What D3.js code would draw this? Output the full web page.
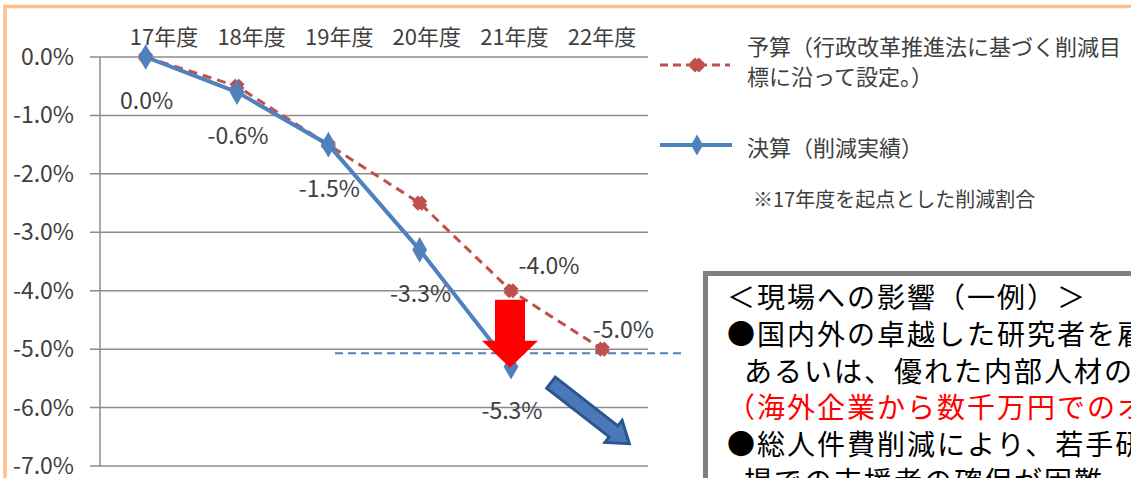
<!DOCTYPE html>
<html>
    <head>
        <meta charset="utf-8">
        <title>人件費削減</title>
        <style>
            body { margin: 0; background: #fff; }
            text { font-family: "Noto Sans CJK JP", "Noto Sans", sans-serif; }
        </style>
    </head>

    <body>
        <script src="https://cdn.jsdelivr.net/npm/d3@7"></script>
        <script>

            var years = ["17年度", "18年度", "19年度", "20年度", "21年度", "22年度"];
            var budget = [0, -0.5, -1.5, -2.5, -4.0, -5.0];
            var actual = [0, -0.6, -1.5, -3.3, -5.3, null];
            var yTicks = [0, -1, -2, -3, -4, -5, -6, -7];
            var budgetLabeled = [false, false, false, false, true, true];
            var targetLine = -5.0;

            var legendBudget = ["予算（行政改革推進法に基づく削減目", "標に沿って設定。）"];
            var legendActual = "決算（削減実績）";
            var note = "※17年度を起点とした削減割合";

            var boxLines = [
                {text: "＜現場への影響（一例）＞", indent: 0, red: false},
                {text: "●国内外の卓越した研究者を雇用することが困難", indent: 0, red: false},
                {text: "あるいは、優れた内部人材の流出", indent: 17, red: false},
                {text: "（海外企業から数千万円でのオファー）", indent: 0, red: true},
                {text: "●総人件費削減により、若手研究者や現", indent: 0, red: false},
                {text: "場での支援者の確保が困難", indent: 17, red: false}
            ];

            var width = 1131;
            var height = 478;
            var red = "#C0504D";
            var blue = "#4F81BD";

            var svg = d3.select("body").append("svg")
                    .attr("width", width)
                    .attr("height", height);

            // orange frame of the slide
            svg.append("rect")
                    .attr("x", 5).attr("y", 6.5)
                    .attr("width", width + 20).attr("height", height + 20)
                    .attr("fill", "none")
                    .attr("stroke", "#FAC090")
                    .attr("stroke-width", 3.5);

            var x = d3.scaleBand().domain(years).range([100, 648]);
            var cx = function (d) { return x(d) + x.bandwidth() / 2; };
            var y = d3.scaleLinear().domain([0, -7]).range([57, 466]);
            var header = d3.scalePoint().domain(years).range([164, 602]);
            var fmt = function (v) { return v.toFixed(1) + "%"; };

            // grid + ticks
            svg.append("g").selectAll("line")
                    .data(yTicks)
                    .enter().append("line")
                    .attr("x1", 90).attr("x2", 648)
                    .attr("y1", function (d) { return y(d); })
                    .attr("y2", function (d) { return y(d); })
                    .attr("stroke", "#8c8c8c")
                    .attr("stroke-width", 1.5);

            svg.append("line")
                    .attr("x1", 100).attr("x2", 100)
                    .attr("y1", y(0)).attr("y2", y(-7))
                    .attr("stroke", "#8c8c8c")
                    .attr("stroke-width", 1.5);

            svg.append("g").selectAll("text")
                    .data(yTicks)
                    .enter().append("text")
                    .attr("x", 74)
                    .attr("y", function (d) { return y(d); })
                    .attr("dy", "0.35em")
                    .attr("text-anchor", "end")
                    .attr("font-size", 23)
                    .attr("fill", "#404040")
                    .text(function (d) { return fmt(d); });

            svg.append("g").selectAll("text")
                    .data(years)
                    .enter().append("text")
                    .attr("x", function (d) { return header(d); })
                    .attr("y", 37)
                    .attr("dy", "0.35em")
                    .attr("text-anchor", "middle")
                    .attr("font-size", 22)
                    .attr("fill", "#404040")
                    .text(function (d) { return d; });

            // target reference line
            svg.append("line")
                    .attr("x1", 335).attr("x2", 683)
                    .attr("y1", y(targetLine) + 4).attr("y2", y(targetLine) + 4)
                    .attr("stroke", blue)
                    .attr("stroke-width", 2)
                    .attr("stroke-dasharray", "8,5");

            var line = d3.line()
                    .defined(function (d) { return d.v !== null; })
                    .x(function (d) { return cx(d.k); })
                    .y(function (d) { return y(d.v); });

            var budgetPts = years.map(function (k, i) { return {k: k, v: budget[i], i: i}; });
            var actualPts = years.map(function (k, i) { return {k: k, v: actual[i], i: i}; });

            // budget series
            svg.append("path")
                    .datum(budgetPts)
                    .attr("d", line)
                    .attr("fill", "none")
                    .attr("stroke", red)
                    .attr("stroke-width", 3)
                    .attr("stroke-dasharray", "9,6");

            var xMark = d3.symbol().type(d3.symbolX).size(60);
            var diamond = d3.symbol().type(d3.symbolDiamond).size(190);

            svg.append("g").selectAll("path")
                    .data(budgetPts)
                    .enter().append("path")
                    .attr("d", xMark)
                    .attr("transform", function (d) { return "translate(" + cx(d.k) + "," + y(d.v) + ")"; })
                    .attr("fill", red)
                    .attr("stroke", red)
                    .attr("stroke-width", 8);

            // actual series
            svg.append("path")
                    .datum(actualPts)
                    .attr("d", line)
                    .attr("fill", "none")
                    .attr("stroke", blue)
                    .attr("stroke-width", 4);

            svg.append("g").selectAll("path")
                    .data(actualPts.filter(function (d) { return d.v !== null; }))
                    .enter().append("path")
                    .attr("d", diamond)
                    .attr("transform", function (d) { return "translate(" + cx(d.k) + "," + y(d.v) + ")"; })
                    .attr("fill", blue);

            // data labels
            svg.append("g").selectAll("text")
                    .data(actualPts.filter(function (d) { return d.v !== null; }))
                    .enter().append("text")
                    .attr("x", function (d) { return cx(d.k) + 1; })
                    .attr("y", function (d) { return y(d.v) + 44; })
                    .attr("dy", "0.35em")
                    .attr("text-anchor", "middle")
                    .attr("font-size", 23)
                    .attr("fill", "#404040")
                    .text(function (d) { return fmt(d.v); });

            var budgetOffsets = {4: [38, -25], 5: [21, -19]};
            svg.append("g").selectAll("text")
                    .data(budgetPts.filter(function (d) { return budgetLabeled[d.i]; }))
                    .enter().append("text")
                    .attr("x", function (d) { return cx(d.k) + budgetOffsets[d.i][0]; })
                    .attr("y", function (d) { return y(d.v) + budgetOffsets[d.i][1]; })
                    .attr("dy", "0.35em")
                    .attr("text-anchor", "middle")
                    .attr("font-size", 23)
                    .attr("fill", "#404040")
                    .text(function (d) { return fmt(d.v); });

            // red down arrow between budget and actual for 21年度
            var ax = cx("21年度") - 1;
            var aTop = y(budget[4]) + 9;
            var aTip = y(actual[4]) + 1;
            var headLen = 27;
            svg.append("path")
                    .attr("d", d3.line()([
                        [ax - 15, aTop], [ax + 15, aTop], [ax + 15, aTip - headLen],
                        [ax + 28, aTip - headLen], [ax, aTip], [ax - 28, aTip - headLen],
                        [ax - 15, aTip - headLen]
                    ]) + "Z")
                    .attr("fill", "#FF0000");

            // blue diagonal arrow continuing the trend
            var s = [cx("21年度") + 40, y(actual[4]) + 16];
            var e = [cx("22年度") + 27, y(actual[4]) + 77];
            var ang = Math.atan2(e[1] - s[1], e[0] - s[0]);
            var len = Math.hypot(e[0] - s[0], e[1] - s[1]);
            svg.append("path")
                    .attr("d", d3.line()([
                        [0, -7], [len - 20, -7], [len - 20, -14], [len, 0],
                        [len - 20, 14], [len - 20, 7], [0, 7]
                    ]) + "Z")
                    .attr("transform", "translate(" + s[0] + "," + s[1] + ") rotate(" + (ang * 180 / Math.PI) + ")")
                    .attr("fill", "#4A78B8")
                    .attr("stroke", "#2C5590")
                    .attr("stroke-width", 3)
                    .attr("stroke-linejoin", "miter");

            // legend
            var lg = svg.append("g");
            lg.append("line")
                    .attr("x1", 660).attr("x2", 730).attr("y1", 65).attr("y2", 65)
                    .attr("stroke", red).attr("stroke-width", 3).attr("stroke-dasharray", "8,5");
            lg.append("path")
                    .attr("d", xMark)
                    .attr("transform", "translate(697,65)")
                    .attr("fill", red).attr("stroke", red).attr("stroke-width", 8);
            lg.selectAll("text.b")
                    .data(legendBudget)
                    .enter().append("text")
                    .attr("x", 747)
                    .attr("y", function (d, i) { return 47 + i * 30; })
                    .attr("dy", "0.35em")
                    .attr("font-size", 22)
                    .attr("fill", "#404040")
                    .text(function (d) { return d; });

            lg.append("line")
                    .attr("x1", 660).attr("x2", 732).attr("y1", 145).attr("y2", 145)
                    .attr("stroke", blue).attr("stroke-width", 4);
            lg.append("path")
                    .attr("d", d3.symbol().type(d3.symbolDiamond).size(130))
                    .attr("transform", "translate(697,145)")
                    .attr("fill", blue);
            lg.append("text")
                    .attr("x", 747).attr("y", 148)
                    .attr("dy", "0.35em")
                    .attr("font-size", 22)
                    .attr("fill", "#404040")
                    .text(legendActual);

            lg.append("text")
                    .attr("x", 753).attr("y", 200)
                    .attr("dy", "0.35em")
                    .attr("font-size", 20)
                    .attr("fill", "#404040")
                    .text(note);

            // impact box
            svg.append("rect")
                    .attr("x", 705.5).attr("y", 273.5)
                    .attr("width", 600).attr("height", 400)
                    .attr("fill", "#fff")
                    .attr("stroke", "#808080")
                    .attr("stroke-width", 5);

            svg.append("g").selectAll("text")
                    .data(boxLines)
                    .enter().append("text")
                    .attr("x", function (d) { return 727 + d.indent; })
                    .attr("y", function (d, i) { return 308 + i * 36.8; })
                    .attr("font-size", 28)
                    .attr("letter-spacing", 2)
                    .attr("fill", function (d) { return d.red ? "#FF0000" : "#000"; })
                    .text(function (d) { return d.text; });

        </script>
    </body>
</html>
